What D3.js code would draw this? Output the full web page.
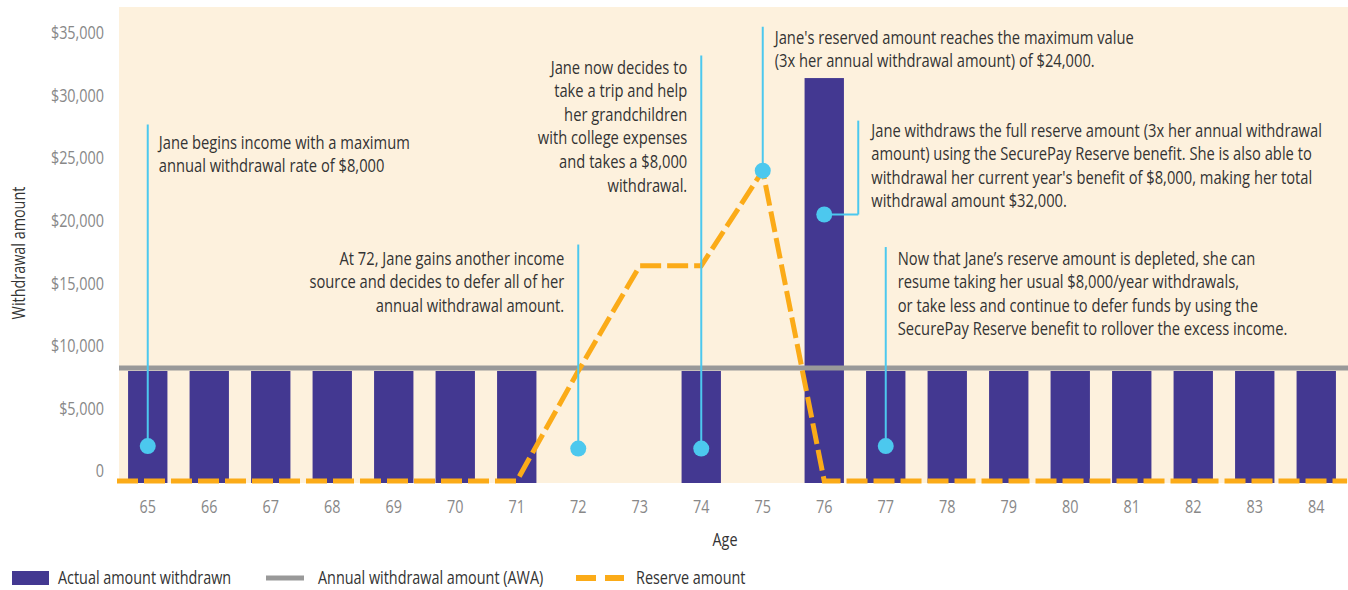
<!DOCTYPE html>
<html>
<head>
<meta charset="utf-8">
<script src="https://cdn.jsdelivr.net/npm/d3@7"></script>
<style>
  body { margin: 0; background: #fff; }
  text { font-family: "Open Sans", "DejaVu Sans Condensed", sans-serif; }
</style>
</head>
<body>
<svg id="chart" width="1348" height="590"></svg>
<script>
const ages = [65, 66, 67, 68, 69, 70, 71, 72, 73, 74, 75, 76, 77, 78, 79, 80, 81, 82, 83, 84];
const withdrawn = [8000, 8000, 8000, 8000, 8000, 8000, 8000, 0, 0, 8000, 0, 31400, 8000, 8000, 8000, 8000, 8000, 8000, 8000, 8000];
const reserve = [0, 0, 0, 0, 0, 0, 0, 8000, 16400, 16400, 24000, 0, 0, 0, 0, 0, 0, 0, 0, 0];
const awa = 8000;
const yTicks = [0, 5000, 10000, 15000, 20000, 25000, 30000, 35000];

const notes = [
  { age: 65, dot: 2000, top: 27700, lines: ["Jane begins income with a maximum", "annual withdrawal rate of $8,000"] },
  { age: 72, dot: 1800, top: 18100, lines: ["At 72, Jane gains another income", "source and decides to defer all of her", "annual withdrawal amount."] },
  { age: 74, dot: 1800, top: 33200, lines: ["Jane now decides to", "take a trip and help", "her grandchildren", "with college expenses", "and takes a $8,000", "withdrawal."] },
  { age: 75, dot: 24000, top: 35500, lines: ["Jane's reserved amount reaches the maximum value", "(3x her annual withdrawal amount) of $24,000."] },
  { age: 76, dot: 20500, top: 28000, lines: ["Jane withdraws the full reserve amount (3x her annual withdrawal", "amount) using the SecurePay Reserve benefit. She is also able to", "withdrawal her current year's benefit of $8,000, making her total", "withdrawal amount $32,000."] },
  { age: 77, dot: 2000, top: 17900, lines: ["Now that Jane\u2019s reserve amount is depleted, she can", "resume taking her usual $8,000/year withdrawals,", "or take less and continue to defer funds by using the", "SecurePay Reserve benefit to rollover the excess income."] }
];

// text placement relative to each note's stem
const noteLayout = [
  { dx: 11, anchor: "start", textY: 142 },
  { dx: -14, anchor: "end", textY: 258 },
  { dx: -14, anchor: "end", textY: 67 },
  { dx: 12, anchor: "start", textY: 37 },
  { dx: 47, anchor: "start", textY: 130, elbow: 34 },
  { dx: 12, anchor: "start", textY: 258 }
];

const COLORS = {
  bg: "#fdf1dd",
  bar: "#433891",
  awa: "#999999",
  reserve: "#fbab18",
  note: "#4cc8ee",
  text: "#333333",
  tick: "#888888",
};

// the original uses a condensed face, so squeeze glyphs horizontally around the anchor x
function squeeze(sel, k = 0.8) {
  sel.attr("transform", function () {
    const x0 = +this.getAttribute("x");
    return `translate(${x0},0) scale(${k},1) translate(${-x0},0)`;
  });
}

const svg = d3.select("#chart");
const plot = { left: 119, right: 1348, top: 7, bottom: 483 };

const x = d3.scaleBand().domain(ages).range([117, 1347]).paddingInner(0.36).paddingOuter(0.18);
const y = d3.scaleLinear().domain([-950, 35000]).range([plot.bottom, 33]);

svg.append("rect")
  .attr("x", plot.left).attr("y", plot.top)
  .attr("width", plot.right - plot.left).attr("height", plot.bottom - plot.top)
  .attr("fill", COLORS.bg);

// bars
svg.append("g")
  .selectAll("rect")
  .data(ages.map((a, i) => ({ age: a, value: withdrawn[i] })).filter((d) => d.value > 0))
  .join("rect")
  .attr("x", (d) => x(d.age))
  .attr("width", x.bandwidth())
  .attr("y", (d) => y(d.value))
  .attr("height", (d) => plot.bottom - y(d.value))
  .attr("fill", COLORS.bar);

// AWA line
svg.append("line")
  .attr("x1", plot.left).attr("x2", plot.right)
  .attr("y1", y(awa) - 3).attr("y2", y(awa) - 3)
  .attr("stroke", COLORS.awa).attr("stroke-width", 5);

// reserve line, zero values sit on the bottom edge
const reserveY = (v) => (v > 0 ? y(v) : plot.bottom - 2);
const reservePts = [[x.range()[0], reserveY(0)]]
  .concat(ages.map((a, i) => [x(a) + x.bandwidth() / 2, reserveY(reserve[i])]))
  .concat([[x.range()[1], reserveY(0)]]);
svg.append("path")
  .attr("d", d3.line()(reservePts))
  .attr("fill", "none")
  .attr("stroke", COLORS.reserve)
  .attr("stroke-width", 5)
  .attr("stroke-dasharray", "21,6");

// y axis labels
svg.append("g")
  .selectAll("text")
  .data(yTicks)
  .join("text")
  .attr("x", 104)
  .attr("y", (d) => y(d))
  .attr("dy", "0.35em")
  .attr("text-anchor", "end")
  .attr("fill", COLORS.tick)
  .style("font-size", "18px")
  .text((d) => (d === 0 ? "0" : "$" + d3.format(",")(d)))
  .call(squeeze);

svg.append("text")
  .attr("transform", "translate(19,253) rotate(-90) scale(0.8,1)")
  .attr("text-anchor", "middle")
  .attr("dy", "0.35em")
  .attr("fill", COLORS.text)
  .style("font-size", "18px")
  .text("Withdrawal amount");

// x axis labels
svg.append("g")
  .selectAll("text")
  .data(ages)
  .join("text")
  .attr("x", (d) => x(d) + x.bandwidth() / 2)
  .attr("y", 507)
  .attr("dy", "0.35em")
  .attr("text-anchor", "middle")
  .attr("fill", COLORS.tick)
  .style("font-size", "18px")
  .text((d) => d)
  .call(squeeze);

svg.append("text")
  .attr("x", 725).attr("y", 540).attr("dy", "0.35em")
  .attr("text-anchor", "middle")
  .attr("fill", COLORS.text)
  .style("font-size", "18px")
  .text("Age")
  .call(squeeze);

// annotations
const noteG = svg.append("g");
notes.forEach((n, i) => {
  const lay = noteLayout[i];
  const cx = x(n.age) + x.bandwidth() / 2;
  const stemX = cx + (lay.elbow || 0);
  noteG.append("line")
    .attr("x1", stemX).attr("x2", stemX)
    .attr("y1", y(n.top)).attr("y2", y(n.dot))
    .attr("stroke", COLORS.note).attr("stroke-width", 2);
  if (lay.elbow) {
    noteG.append("line")
      .attr("x1", cx).attr("x2", stemX)
      .attr("y1", y(n.dot)).attr("y2", y(n.dot))
      .attr("stroke", COLORS.note).attr("stroke-width", 2);
  }
  noteG.append("circle")
    .attr("cx", cx).attr("cy", y(n.dot)).attr("r", 8)
    .attr("fill", COLORS.note);
  n.lines.forEach((line, j) => {
    noteG.append("text")
      .attr("x", cx + lay.dx)
      .attr("y", lay.textY + j * 23.6)
      .attr("dy", "0.35em")
      .attr("text-anchor", lay.anchor)
      .attr("fill", COLORS.text)
      .style("font-size", "19px")
      .text(line)
      .call(squeeze, 0.775);
  });
});

// legend
const legend = svg.append("g").style("font-size", "18px");
legend.append("rect").attr("x", 12).attr("y", 571).attr("width", 37).attr("height", 14).attr("fill", COLORS.bar);
legend.append("line").attr("x1", 266).attr("x2", 304).attr("y1", 578).attr("y2", 578)
  .attr("stroke", COLORS.awa).attr("stroke-width", 5);
legend.append("line").attr("x1", 576).attr("x2", 624).attr("y1", 578).attr("y2", 578)
  .attr("stroke", COLORS.reserve).attr("stroke-width", 6).attr("stroke-dasharray", "20,9");
legend.selectAll("text")
  .data([
    { x: 58, label: "Actual amount withdrawn" },
    { x: 318, label: "Annual withdrawal amount (AWA)" },
    { x: 636, label: "Reserve amount" },
  ])
  .join("text")
  .attr("x", (d) => d.x)
  .attr("y", 578)
  .attr("dy", "0.35em")
  .attr("fill", COLORS.text)
  .text((d) => d.label)
  .call(squeeze);
</script>
</body>
</html>
